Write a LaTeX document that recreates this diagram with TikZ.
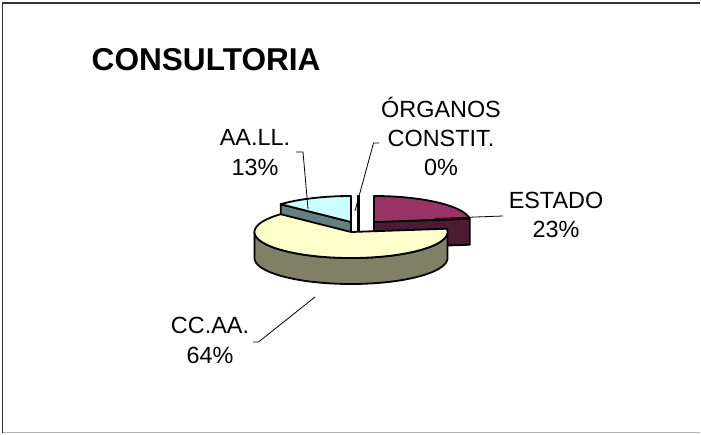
\documentclass[tikz,border=0pt]{standalone}
\usepackage{fontspec}
\setmainfont{Liberation Sans}
\definecolor{estTop}{HTML}{993366}
\definecolor{estSide}{HTML}{4D1A33}
\definecolor{ccaTop}{HTML}{FFFFCC}
\definecolor{ccaSide}{HTML}{808066}
\definecolor{aalTop}{HTML}{CCFFFF}
\definecolor{aalSide}{HTML}{668080}
\tikzset{
  face/.style={draw=black, line width=1.8pt, line join=round},
  leader/.style={draw=black, line width=0.8pt},
  lbl/.style={inner sep=0pt, anchor=base, font=\fontsize{23.4}{28}\selectfont},
  ttl/.style={inner sep=0pt, anchor=base west, font=\fontsize{31.6}{36}\selectfont\bfseries},
}
\begin{document}
\begin{tikzpicture}[x=1pt,y=-1pt]
\def\rx{96.5}\def\ry{26}\def\h{26}
\useasboundingbox (0,0) rectangle (701,434);
\fill[white] (0,0) rectangle (701,434);
% frame
\draw[black!80, line width=1.6pt] (2.5,433) -- (2.5,3) -- (700,3);
\draw[black!30, line width=1.6pt] (2.5,432.5) -- (700,432.5);
% title
\node[ttl] (title) at (91.5,70) {CONSULTORIA};
% AA.LL. slice (vertex 351,222)
\fill[aalSide, face] (351,222) -- ({351+\rx*sin(313.2)},{222-\ry*cos(313.2)}) -- ++(0,\h) -- (351,222+\h) -- cycle;
\fill[aalTop, face] (351,222) -- plot[domain=313.2:360, samples=40] ({351+\rx*sin(\x)},{222-\ry*cos(\x)}) -- cycle;
% ORGANOS 0% slice
\draw[line width=2.4pt] (358.5,195) -- (358.5,246);
% ESTADO slice (vertex 374,222)
\fill[estSide, face] (374,222) -- ({374+\rx*sin(82.8)},{222-\ry*cos(82.8)}) -- ++(0,\h) -- (374,222+\h) -- cycle;
\fill[estTop, face] (374,222) -- plot[domain=0:82.8, samples=40] ({374+\rx*sin(\x)},{222-\ry*cos(\x)}) -- cycle;
% CC.AA. slice (vertex 351,232)
\fill[ccaSide, face] plot[domain=90:270, samples=80] ({351+\rx*sin(\x)},{232-\ry*cos(\x)}) -- plot[domain=270:90, samples=80] ({351+\rx*sin(\x)},{232+\h-\ry*cos(\x)}) -- cycle;
\fill[ccaTop, face] (351,232) -- plot[domain=82.8:313.2, samples=120] ({351+\rx*sin(\x)},{232-\ry*cos(\x)}) -- cycle;
% labels
\node[lbl] (org1) at (441,117) {ÓRGANOS};
\node[lbl] (org2) at (441,146) {CONSTIT.};
\node[lbl] (org3) at (441,175) {0\%};
\node[lbl] (aal1) at (255,145) {AA.LL.};
\node[lbl] (aal2) at (255,175) {13\%};
\node[lbl] (est1) at (556,208) {ESTADO};
\node[lbl] (est2) at (556,237) {23\%};
\node[lbl] (cca1) at (210,333) {CC.AA.};
\node[lbl] (cca2) at (210,363) {64\%};
% leader lines
\coordinate (orgA) at (379,143);
\coordinate (orgB) at (373.5,143);
\coordinate (orgC) at (355,211);
\coordinate (aalA) at (296,152);
\coordinate (aalB) at (303,152);
\coordinate (aalC) at (308,209);
\coordinate (estA) at (435,218.5);
\coordinate (estB) at (503,216);
\coordinate (ccaA) at (253,342);
\coordinate (ccaB) at (258.5,342);
\coordinate (ccaC) at (315,297);
\draw[leader] (orgA) -- (orgB) -- (orgC);
\draw[leader] (aalA) -- (aalB) -- (aalC);
\draw[leader] (estA) -- (estB);
\draw[leader] (ccaA) -- (ccaB) -- (ccaC);
\end{tikzpicture}
\end{document}
